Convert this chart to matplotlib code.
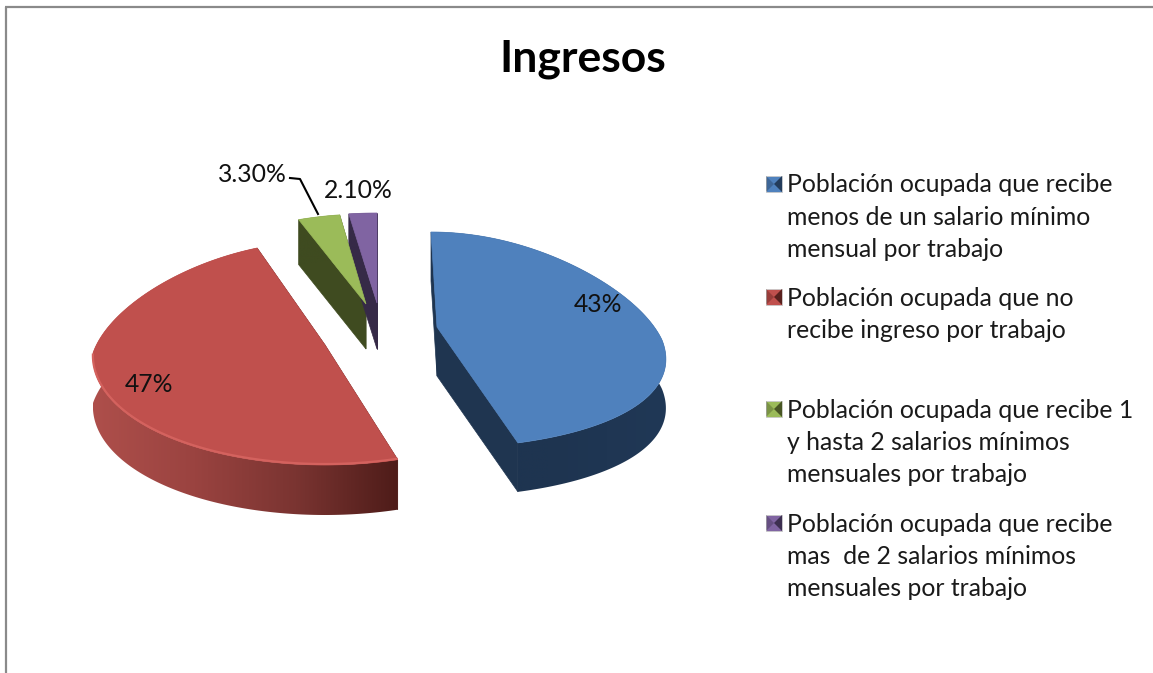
#!/usr/bin/env python3
"""Ingresos: exploded 3D-looking pie, drawn by hand on a pixel canvas."""
import matplotlib
matplotlib.use("Agg")
import matplotlib.pyplot as plt
import numpy as np
from matplotlib.colors import LinearSegmentedColormap
from matplotlib.patches import Polygon

W, H = 1153, 673

TITLE = "Ingresos"
VALUES = [43, 47, 3.3, 2.1]
VALUE_LABELS = ["43%", "47%", "3.30%", "2.10%"]
CATEGORIES = [
    "Población ocupada que recibe\nmenos de un salario mínimo\nmensual por trabajo",
    "Población ocupada que no\nrecibe ingreso por trabajo",
    "Población ocupada que recibe 1\ny hasta 2 salarios mínimos\nmensuales por trabajo",
    "Población ocupada que recibe\nmas  de 2 salarios mínimos\nmensuales por trabajo",
]

TOP_COLOURS = ["#4f81bd", "#c0504d", "#9bbb59", "#8064a2"]
FACE_COLOURS = ["#1f3550", "#4e1c19", "#3f4b20", "#362a47"]
WALL_STOPS = [
    ["#1e3450", "#1e3450", "#203856"],
    ["#ae4f4b", "#9a4340", "#7a3431", "#4e1c19"],
    ["#3f4b20", "#3f4b20"],
    ["#362a47", "#362a47"],
]

# geometry of each exploded slice on the canvas
CX = [437, 325, 366, 377]
APEX_Y = [327, 345, 304, 303]
RIM_Y = [340, 353, 304, 303]
RX = [225, 232, 238, 255]
RY = [108, 112, 90, 90]
SKEW_FAR = [-6, 0, 0, 0]
PERSP_FAR = [0.2, 0.17, 0.2, 0.2]
PERSP_NEAR = [0.19, 0.03, 0.2, 0.2]
DEPTH = [49, 50, 45, 46]


def project(i, theta):
    u, v = np.sin(theta), np.cos(theta)
    far = v > 0
    k = np.where(far, PERSP_FAR[i], PERSP_NEAR[i])
    x = CX[i] + RX[i] * u * (1 - k * v) + np.where(far, SKEW_FAR[i] * v, 0)
    y = RIM_Y[i] - v * RY[i]
    return np.column_stack([x, y])


def draw_slice(ax, i, start, end):
    theta = np.linspace(start, end, 200)
    arc = project(i, theta)
    apex = np.array([[CX[i], APEX_Y[i]]], dtype=float)
    down = np.array([0, DEPTH[i]])

    # cut faces
    for edge in (arc[-1:], arc[:1]):
        ax.add_patch(Polygon(np.vstack([edge, apex, apex + down, edge + down]),
                             closed=True, fc=FACE_COLOURS[i], ec=FACE_COLOURS[i], lw=0.5, zorder=1))

    # outer wall with a horizontal gradient
    wall = Polygon(np.vstack([arc, (arc + down)[::-1]]), closed=True, fc="none", ec="none")
    ax.add_patch(wall)
    x0, x1 = arc[:, 0].min(), arc[:, 0].max()
    y0, y1 = arc[:, 1].min(), arc[:, 1].max() + DEPTH[i]
    cmap = LinearSegmentedColormap.from_list(f"wall{i}", WALL_STOPS[i])
    img = ax.imshow(np.linspace(0, 1, 256).reshape(1, -1), cmap=cmap, aspect="auto",
                    extent=(x0, x1, y1, y0), interpolation="bilinear", zorder=2)
    img.set_clip_path(wall)

    # top surface
    ax.add_patch(Polygon(np.vstack([apex, arc]), closed=True,
                         fc=TOP_COLOURS[i], ec=TOP_COLOURS[i], lw=0.5, zorder=3))

    # the red slice has a light rim along its front edge
    if i == 1:
        rim = project(i, theta[np.cos(theta) < 0])
        ax.plot(rim[:, 0], rim[:, 1] - 1, color="#d4625e", lw=1.6, solid_capstyle="butt", zorder=4)


def legend_marker(ax, x, y, colour, dark):
    s = 8
    c = (x, y)
    tl, tr, br, bl = (x - s, y - s), (x + s, y - s), (x + s, y + s), (x - s, y + s)
    ax.add_patch(Polygon([tl, tr, br, bl], closed=True, fc=colour, ec="#c9c9c9", lw=0.6))
    ax.add_patch(Polygon([tl, bl, c], closed=True, fc=dark, ec="none", alpha=0.35))
    ax.add_patch(Polygon([tr, br, c], closed=True, fc=dark, ec="none", alpha=0.9))


plt.rcParams["font.family"] = ["Lato", "DejaVu Sans"]

fig = plt.figure(figsize=(W / 100, H / 100), dpi=100)
ax = fig.add_axes([0, 0, 1, 1])

# chart frame, cropped on the right and at the bottom
ax.plot([6, 6], [H, 7], color="#8a8a8a", lw=1.6, solid_capstyle="butt")
ax.plot([5.4, W], [7, 7], color="#8a8a8a", lw=1.6, solid_capstyle="butt")

ax.text(583, 59, TITLE, ha="center", va="center", fontsize=32, fontweight="bold", color="black")

shares = np.array(VALUES) / sum(VALUES)
edges = np.concatenate([[0], np.cumsum(shares)]) * 2 * np.pi
for i in range(len(VALUES)):
    draw_slice(ax, i, edges[i], edges[i + 1])

label_x = [598, 149, 252, 358]
label_y = [304, 385, 174, 190]
for lab, lx, ly in zip(VALUE_LABELS, label_x, label_y):
    ax.text(lx, ly, lab, ha="center", va="center", fontsize=17.8, color="#111111", zorder=10)

# leader line of the green slice
ax.plot([290, 300, 318], [178, 179, 214], color="black", lw=1.5, zorder=5)

legend_y = [185, 298, 410, 524]
for name, y, col, dark in zip(CATEGORIES, legend_y, TOP_COLOURS, FACE_COLOURS):
    legend_marker(ax, 774, y - 1, col, dark)
    for k, line in enumerate(name.split("\n")):
        ax.text(787, y + k * 32.3, line, ha="left", va="center", fontsize=17.8, color="#1a1a1a")

ax.set_xlim(0, W)
ax.set_ylim(H, 0)
ax.axis("off")

fig.savefig("out.png", dpi=100, facecolor="white")
